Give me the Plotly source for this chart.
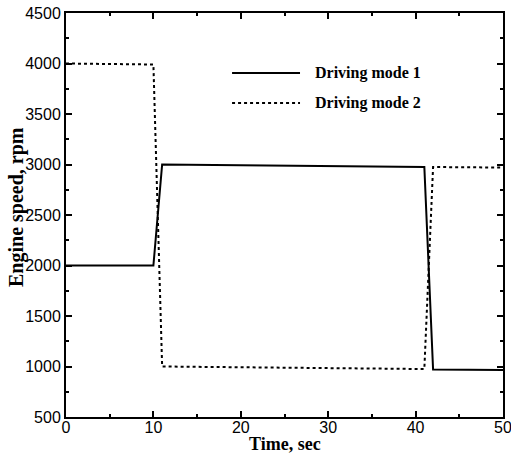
import plotly.graph_objects as go

time_1 = [0, 10, 11, 41, 42, 50]
mode_1 = [2000, 2000, 3000, 2975, 970, 965]
time_2 = [0, 10, 11, 41, 42, 50]
mode_2 = [4000, 3990, 1000, 975, 2975, 2970]
legend_names = ["Driving mode 1", "Driving mode 2"]
x_title = "Time, sec"
y_title = "Engine speed, rpm"

fig = go.Figure()
fig.add_trace(go.Scatter(x=time_1, y=mode_1, mode="lines", name=legend_names[0],
                         line=dict(color="black", width=2)))
fig.add_trace(go.Scatter(x=time_2, y=mode_2, mode="lines", name=legend_names[1],
                         line=dict(color="black", width=2, dash="3px,3px")))

axis_common = dict(showline=True, linecolor="black", linewidth=2, mirror="allticks",
                   ticks="inside", ticklen=6, tickwidth=1.5, tickcolor="black",
                   showgrid=False, zeroline=False, automargin=False,
                   ticklabeloverflow="allow",
                   tickfont=dict(family="Liberation Sans, Arial", size=16, color="black"))

fig.update_xaxes(range=[0, 50], dtick=10, tick0=0, ticklabelstandoff=-5,
                 minor=dict(dtick=5, ticks="inside", ticklen=3, tickcolor="black"),
                 **axis_common)
fig.update_yaxes(range=[500, 4500], dtick=500, tick0=500,
                 minor=dict(dtick=250, ticks="inside", ticklen=3, tickcolor="black"),
                 **axis_common)

serif = "Liberation Serif, Times New Roman"
fig.add_annotation(xref="paper", yref="paper", x=0.5, y=-0.066, text="<b>" + x_title + "</b>",
                   showarrow=False, xanchor="center", yanchor="middle",
                   font=dict(family=serif, size=18, color="black"))
fig.add_annotation(xref="paper", yref="paper", x=-0.112, y=0.52, text="<b>" + y_title + "</b>",
                   showarrow=False, xanchor="center", yanchor="middle", textangle=-90,
                   font=dict(family=serif, size=20, color="black"))

# manual legend
leg_y = [0.8515, 0.777]
dashes = ["solid", "3px,3px"]
for yy, d, name in zip(leg_y, dashes, legend_names):
    fig.add_shape(type="line", xref="paper", yref="paper", x0=0.380, x1=0.5355, y0=yy, y1=yy,
                  line=dict(color="black", width=2, dash=d))
    fig.add_annotation(xref="paper", yref="paper", x=0.566, y=yy, text="<b>" + name + "</b>",
                       showarrow=False, xanchor="left", yanchor="middle",
                       font=dict(family=serif, size=16, color="black"))

fig.update_layout(width=511, height=457, margin=dict(l=66, r=8, t=13, b=40),
                  plot_bgcolor="white", paper_bgcolor="white", showlegend=False)

fig.write_html("out.html")
